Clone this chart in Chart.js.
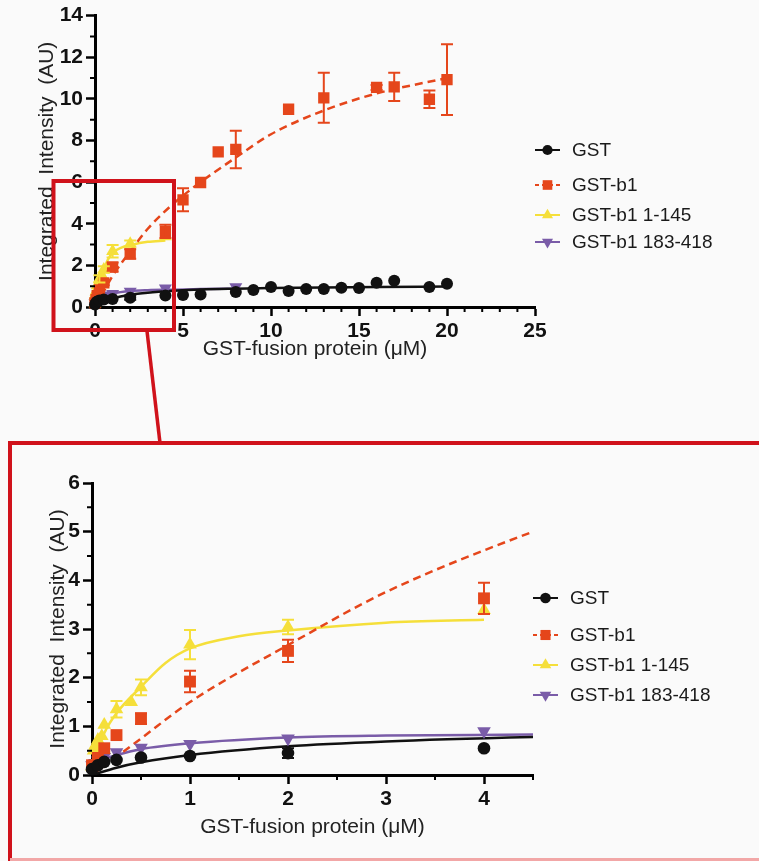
<!DOCTYPE html>
<html>
<head>
<meta charset="utf-8">
<script src="https://cdn.jsdelivr.net/npm/chart.js@4.4.0/dist/chart.umd.min.js"></script>
<style>
  html, body { margin: 0; padding: 0; background: #fafafa; }
  body { width: 759px; height: 861px; position: relative; overflow: hidden; }
  canvas { position: absolute; left: 0; }
  #overview { top: 0; }
  #detail { top: 440px; }
  svg { position: absolute; left: 0; top: 0; pointer-events: none; }
</style>
</head>
<body>
<canvas id="overview" width="759" height="380"></canvas>
<canvas id="detail" width="759" height="421"></canvas>
<svg width="759" height="861">
  <rect x="53.5" y="181" width="120.5" height="149" fill="none" stroke="#d0121b" stroke-width="4"/>
  <line x1="147" y1="331" x2="160" y2="443" stroke="#d0121b" stroke-width="3.5"/>
  <polyline points="10,861 10,443 759,443" fill="none" stroke="#d0121b" stroke-width="4"/>
  <line x1="10" y1="859.5" x2="759" y2="859.5" stroke="#f2a7a7" stroke-width="3"/>
</svg>
<script>
const seriesNames = ['GST', 'GST-b1', 'GST-b1 1-145', 'GST-b1 183-418'];

// measured points: concentration (uM), intensity (AU), error bar half-height
const gstX   = [0, 0.06, 0.125, 0.25, 0.5, 1, 2, 4, 5, 6, 8, 9, 10, 11, 12, 13, 14, 15, 16, 17, 19, 20];
const gstY   = [0.12, 0.2, 0.27, 0.31, 0.36, 0.39, 0.45, 0.55, 0.58, 0.6, 0.72, 0.82, 0.96, 0.77, 0.86, 0.86, 0.93, 0.91, 1.16, 1.26, 0.96, 1.12];
const gstErr = [null, null, null, null, null, null, 0.1, null, null, null, null, null, null, null, null, null, null, null, null, null, null, null];

const b1X   = [0, 0.06, 0.125, 0.25, 0.5, 1, 2, 4, 5, 6, 7, 8, 11, 13, 16, 17, 19, 20];
const b1Y   = [0.2, 0.35, 0.55, 0.82, 1.16, 1.92, 2.55, 3.63, 5.15, 5.98, 7.45, 7.57, 9.5, 10.05, 10.55, 10.58, 9.98, 10.92];
const b1Err = [null, null, null, null, 0.11, 0.22, 0.23, 0.32, 0.55, null, null, 0.9, null, 1.2, 0.12, 0.68, 0.42, 1.7];

const nX   = [0, 0.016, 0.03, 0.06, 0.1, 0.125, 0.25, 0.4, 0.5, 1, 2, 4];
const nY   = [0.17, 0.5, 0.6, 0.72, 0.8, 1.03, 1.35, 1.5, 1.8, 2.68, 3.04, 3.39];
const nErr = [null, null, null, null, null, null, 0.17, null, 0.16, 0.3, 0.15, null];

const cX   = [0, 0.03, 0.06, 0.125, 0.25, 0.5, 1, 2, 4, 8];
const cY   = [0.2, 0.25, 0.3, 0.37, 0.47, 0.56, 0.64, 0.75, 0.9, 0.96];
const cErr = [null, null, null, null, null, null, null, null, null, null];

// fitted binding curves
const gstFitX = [0, 0.25, 0.5, 1, 2, 3, 4.5, 6, 8, 10, 13, 16, 20];
const gstFitY = [0, 0.15, 0.26, 0.41, 0.59, 0.69, 0.78, 0.84, 0.88, 0.91, 0.94, 0.96, 0.98];
const b1FitX  = [0, 0.5, 1, 2, 3, 4.5, 5, 6, 8, 10, 13, 16, 20];
const b1FitY  = [0, 0.75, 1.5, 2.67, 3.76, 5.0, 5.35, 6.0, 7.18, 8.3, 9.44, 10.26, 11.0];
const nFitX   = [0, 0.06, 0.125, 0.25, 0.5, 0.75, 1, 1.5, 2, 3, 4];
const nFitY   = [0.1, 0.5, 0.86, 1.27, 1.81, 2.3, 2.6, 2.85, 2.97, 3.13, 3.19];
const cFitX   = [0, 0.125, 0.25, 0.5, 1, 2, 3, 4.5, 6, 8];
const cFitY   = [0.2, 0.33, 0.41, 0.53, 0.65, 0.77, 0.81, 0.83, 0.86, 0.88];

const FONT = '"Liberation Sans", Arial, sans-serif';

const series = [
  { name: seriesNames[0], x: gstX, y: gstY, err: gstErr, fx: gstFitX, fy: gstFitY, color: '#111111', style: 'circle', rot: 0, r: 6, dash: [] },
  { name: seriesNames[1], x: b1X, y: b1Y, err: b1Err, fx: b1FitX, fy: b1FitY, color: '#e5461b', style: 'rect', rot: 0, r: 8, dash: [8, 5] },
  { name: seriesNames[2], x: nX, y: nY, err: nErr, fx: nFitX, fy: nFitY, color: '#f5df3a', style: 'triangle', rot: 0, r: 7.5, dash: [] },
  { name: seriesNames[3], x: cX, y: cY, err: cErr, fx: cFitX, fy: cFitY, color: '#7a5ca8', style: 'triangle', rot: 180, r: 7.5, dash: [] }
];

function isMajor(v, step) {
  return Math.abs(v / step - Math.round(v / step)) < 1e-6;
}

const errorBars = {
  id: 'errorBars',
  afterDatasetsDraw(chart) {
    const { ctx, scales: { x, y } } = chart;
    ctx.save();
    chart.data.datasets.forEach(ds => {
      if (!ds.err) return;
      ds.data.forEach((p, i) => {
        const e = ds.err[i];
        if (e == null || p.x > x.max || p.x < x.min) return;
        const px = x.getPixelForValue(p.x);
        const top = y.getPixelForValue(p.y + e);
        const bot = y.getPixelForValue(p.y - e);
        ctx.strokeStyle = ds.borderColor;
        ctx.lineWidth = 2;
        ctx.beginPath();
        ctx.moveTo(px, top); ctx.lineTo(px, bot);
        ctx.moveTo(px - 6, top); ctx.lineTo(px + 6, top);
        ctx.moveTo(px - 6, bot); ctx.lineTo(px + 6, bot);
        ctx.stroke();
      });
    });
    ctx.restore();
  }
};

const minorTicks = {
  id: 'minorTicks',
  afterDraw(chart) {
    const { ctx, chartArea, scales: { x, y } } = chart;
    ctx.save();
    ctx.strokeStyle = '#000';
    ctx.lineWidth = 2;
    ctx.beginPath();
    x.ticks.forEach(t => {
      if (t.label !== '') return;
      const px = x.getPixelForValue(t.value);
      ctx.moveTo(px, chartArea.bottom); ctx.lineTo(px, chartArea.bottom + 5);
    });
    y.ticks.forEach(t => {
      if (t.label !== '') return;
      const py = y.getPixelForValue(t.value);
      ctx.moveTo(chartArea.left, py); ctx.lineTo(chartArea.left - 5, py);
    });
    ctx.stroke();
    ctx.restore();
  }
};

const sideLegend = {
  id: 'sideLegend',
  afterDraw(chart, args, opts) {
    const ctx = chart.ctx;
    ctx.save();
    chart.data.datasets.filter(d => d.inLegend).forEach((ds, i) => {
      const yy = opts.rows[i];
      ctx.strokeStyle = ds.borderColor;
      ctx.lineWidth = 2;
      ctx.setLineDash(ds.lineDash.length ? [4, 3] : []);
      ctx.beginPath();
      ctx.moveTo(opts.lineX, yy); ctx.lineTo(opts.lineX + 25, yy);
      ctx.stroke();
      ctx.setLineDash([]);
      ctx.fillStyle = ds.backgroundColor;
      Chart.helpers.drawPoint(ctx, {
        pointStyle: ds.pointStyle, radius: ds.pointRadius * 0.85,
        rotation: ds.pointRotation, borderWidth: 0
      }, opts.lineX + 12.5, yy);
      ctx.fillStyle = '#1a1a1a';
      ctx.font = '19px ' + FONT;
      ctx.textBaseline = 'middle';
      ctx.fillText(ds.label, opts.textX, yy + 1);
    });
    ctx.restore();
  }
};

function buildChart(id, cfg) {
  const datasets = [];
  series.forEach(s => {
    datasets.push({
      label: s.name,
      inLegend: true,
      lineDash: s.dash,
      data: s.x.map((v, i) => ({ x: v, y: s.y[i] })),
      err: s.err,
      showLine: false,
      pointStyle: s.style,
      pointRotation: s.rot,
      pointRadius: s.r * cfg.marker,
      backgroundColor: s.color,
      borderColor: s.color,
      borderWidth: 0,
      order: 0,
      clip: { left: 10, top: 10, right: 1, bottom: 10 }
    });
    datasets.push({
      label: s.name + ' fit',
      data: s.fx.map((v, i) => ({ x: v, y: s.fy[i] })),
      showLine: true,
      pointRadius: 0,
      borderColor: s.color,
      borderWidth: 2.5,
      borderDash: s.dash,
      cubicInterpolationMode: 'monotone',
      order: 1
    });
  });

  const tickFont = { family: FONT, size: 21, weight: 'bold' };
  const titleFont = { family: FONT, size: 21 };

  return new Chart(document.getElementById(id), {
    type: 'scatter',
    data: { datasets: datasets },
    options: {
      responsive: false,
      animation: false,
      events: [],
      layout: { padding: { left: 0, top: cfg.top, right: cfg.right, bottom: 0 } },
      plugins: {
        legend: { display: false },
        tooltip: { enabled: false },
        sideLegend: cfg.legend
      },
      scales: {
        x: {
          type: 'linear', min: 0, max: cfg.xMax,
          ticks: {
            stepSize: cfg.xMinor, autoSkip: false, maxRotation: 0, padding: 3,
            font: tickFont, color: '#111',
            callback: v => isMajor(v, cfg.xMajor) ? String(v) : ''
          },
          grid: {
            drawOnChartArea: false, tickLength: 9, tickWidth: 2.5,
            tickColor: c => isMajor(c.tick.value, cfg.xMajor) ? '#000' : 'rgba(0,0,0,0)'
          },
          border: { color: '#000', width: 3 },
          title: { display: true, text: 'GST-fusion protein (μM)', font: titleFont, color: '#222', padding: { top: 0, bottom: cfg.xTitlePad } },
          afterFit: s => { s.height = cfg.xAxisH; }
        },
        y: {
          type: 'linear', min: 0, max: cfg.yMax,
          ticks: {
            stepSize: cfg.yMinor, autoSkip: false, padding: 3,
            font: tickFont, color: '#111',
            callback: v => isMajor(v, cfg.yMajor) ? String(v) : ''
          },
          grid: {
            drawOnChartArea: false, tickLength: 9, tickWidth: 2.5,
            tickColor: c => isMajor(c.tick.value, cfg.yMajor) ? '#000' : 'rgba(0,0,0,0)'
          },
          border: { color: '#000', width: 3 },
          title: { display: true, text: 'Integrated  Intensity  (AU)', font: titleFont, color: '#222', padding: { top: cfg.yTitlePad, bottom: 0 } },
          afterFit: s => { s.width = cfg.yAxisW; }
        }
      }
    },
    plugins: [errorBars, minorTicks, sideLegend]
  });
}

buildChart('overview', {
  xMax: 25, xMajor: 5, xMinor: 1,
  yMax: 14, yMajor: 2, yMinor: 1,
  top: 15, right: 224, xAxisH: 73, yAxisW: 95,
  xTitlePad: 18, yTitlePad: 35, marker: 1.0,
  legend: { rows: [150, 185, 215, 242], lineX: 535, textX: 572 }
});

buildChart('detail', {
  xMax: 4.5, xMajor: 1, xMinor: 0.5,
  yMax: 6, yMajor: 1, yMinor: 0.5,
  top: 43, right: 226, xAxisH: 86, yAxisW: 92,
  xTitlePad: 21, yTitlePad: 46, marker: 1.05,
  legend: { rows: [158, 195, 225, 255], lineX: 533, textX: 570 }
});
</script>
</body>
</html>
